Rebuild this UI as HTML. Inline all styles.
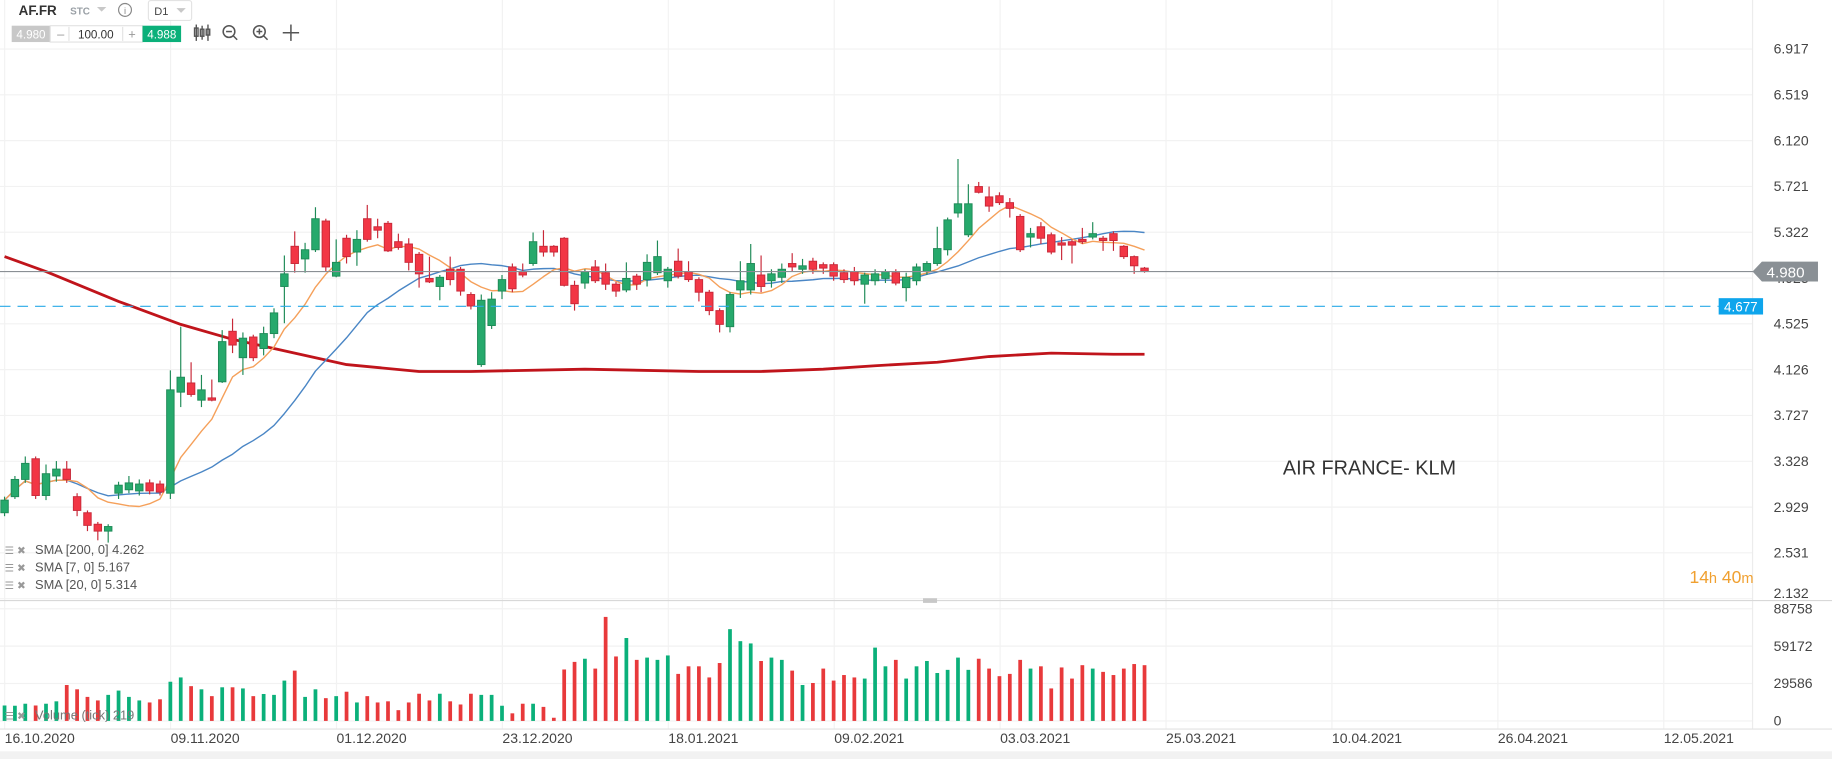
<!DOCTYPE html>
<html><head><meta charset="utf-8">
<style>
html,body{margin:0;padding:0;background:#fff;overflow:hidden}
svg{display:block;font-family:"Liberation Sans",Arial,sans-serif}
</style></head>
<body>
<svg id="chart" width="1832" height="759" viewBox="0 0 1568 649.6" preserveAspectRatio="none" xmlns="http://www.w3.org/2000/svg">
<rect x="0" y="0" width="1568" height="650" fill="#ffffff"/>
<g id="grid"></g>
<g id="vol"></g>
<g id="lines"></g>
<g id="candles"></g>
<g id="axes"></g>
<!-- pane divider -->
<line x1="0" y1="514" x2="1568" y2="514" stroke="#d8d8d8" stroke-width="1"/>
<rect x="790" y="512" width="12" height="4" fill="#c8c8c8"/>
<line x1="0" y1="624" x2="1568" y2="624" stroke="#e2e2e2"/>
<rect x="0" y="643" width="1568" height="7" fill="#f2f2f2"/>
<!-- toolbar -->
<g>
<text x="16" y="13" font-size="11.5" font-weight="bold" fill="#333">AF.FR</text>
<text x="60" y="12.5" font-size="8.5" font-weight="bold" fill="#9aa0a6">STC</text>
<path d="M83 6 L91 6 L87 10 Z" fill="#c8c8c8"/>
<circle cx="107" cy="8.5" r="5.5" fill="none" stroke="#888" stroke-width="1"/>
<text x="107" y="12" font-size="8" fill="#888" text-anchor="middle">i</text>
<rect x="127" y="0.5" width="37" height="17" rx="2" fill="#fff" stroke="#e3e3e3"/>
<text x="132" y="13" font-size="9.5" fill="#444">D1</text>
<path d="M151 7 L159 7 L155 11 Z" fill="#c8c8c8"/>
<rect x="10" y="22" width="33" height="14" fill="#c8c8c8"/>
<text x="26.5" y="33" font-size="10" fill="#fff" text-anchor="middle">4.980</text>
<rect x="43" y="22" width="79" height="14" fill="#fff" stroke="#e3e3e3"/>
<text x="52" y="33" font-size="11" fill="#999" text-anchor="middle">–</text>
<line x1="59" y1="23" x2="59" y2="35" stroke="#e3e3e3"/>
<text x="82" y="33" font-size="10" fill="#333" text-anchor="middle">100.00</text>
<line x1="105" y1="23" x2="105" y2="35" stroke="#e3e3e3"/>
<text x="113" y="33" font-size="11" fill="#999" text-anchor="middle">+</text>
<rect x="122" y="22" width="33" height="14" fill="#0bb07a"/>
<text x="138.5" y="33" font-size="10" fill="#fff" text-anchor="middle">4.988</text>
<g stroke="#555" stroke-width="1.2" fill="none">
<line x1="168" y1="21" x2="168" y2="35"/><rect x="166.5" y="24" width="3" height="7"/>
<line x1="173" y1="22" x2="173" y2="34"/><rect x="171.5" y="25" width="3" height="6"/>
<line x1="178" y1="21" x2="178" y2="35"/><rect x="176.5" y="25" width="3" height="5"/>
</g>
<g stroke="#555" stroke-width="1.3" fill="none"><circle cx="196" cy="27" r="5"/><line x1="199.5" y1="30.5" x2="203" y2="34"/><line x1="193.5" y1="27" x2="198.5" y2="27"/></g>
<g stroke="#555" stroke-width="1.3" fill="none"><circle cx="222" cy="27" r="5"/><line x1="225.5" y1="30.5" x2="229" y2="34"/><line x1="219.5" y1="27" x2="224.5" y2="27"/><line x1="222" y1="24.5" x2="222" y2="29.5"/></g>
<g stroke="#555" stroke-width="1.3" fill="none"><line x1="242" y1="28" x2="256" y2="28"/><line x1="249" y1="21" x2="249" y2="35"/></g>
</g>
<text x="1098" y="406" font-size="17" fill="#333">AIR FRANCE- KLM</text>
<text x="1446" y="499" font-size="15" fill="#f0a030">14<tspan font-size="12.5">h</tspan> 40<tspan font-size="12.5">m</tspan></text>
<g font-size="11" fill="#555">
<g><text x="4" y="474" font-size="9" fill="#999">☰ ✖</text><text x="30" y="474">SMA [200, 0] 4.262</text></g>
<g><text x="4" y="489" font-size="9" fill="#999">☰ ✖</text><text x="30" y="489">SMA [7, 0] 5.167</text></g>
<g><text x="4" y="504" font-size="9" fill="#999">☰ ✖</text><text x="30" y="504">SMA [20, 0] 5.314</text></g>
<g><text x="4" y="616" font-size="9" fill="#999">☰ ✖</text><text x="30" y="616" fill="#777">Volume (tick) 219</text></g>
</g>
</svg>
<script>
const opens=[2.88,3.02,3.17,3.35,3.03,3.20,3.26,3.02,2.88,2.78,2.72,3.05,3.08,3.07,3.14,3.13,3.05,3.93,4.01,3.86,3.88,4.02,4.46,4.23,4.41,4.31,4.44,4.85,5.20,5.09,5.17,5.42,4.94,5.27,5.15,5.44,5.37,5.40,5.24,5.22,5.13,4.92,4.85,5.00,5.00,4.78,4.17,4.51,4.81,5.02,4.98,5.05,5.20,5.20,5.27,4.86,4.88,5.02,4.97,4.87,4.82,4.94,4.91,4.97,4.90,5.07,4.98,4.91,4.80,4.64,4.50,4.82,4.82,4.95,4.90,4.93,5.05,5.00,5.07,5.04,5.04,4.97,4.98,4.87,4.90,4.92,4.97,4.84,4.90,4.98,5.05,5.17,5.49,5.30,5.72,5.63,5.64,5.58,5.46,5.28,5.37,5.30,5.23,5.24,5.26,5.28,5.27,5.31,5.20,5.11,5.01];
const highs=[3.02,3.20,3.37,3.37,3.30,3.33,3.33,3.05,2.90,2.80,2.78,3.15,3.20,3.17,3.17,3.16,4.12,4.50,4.19,4.08,4.04,4.47,4.57,4.45,4.43,4.50,4.66,5.12,5.33,5.23,5.54,5.44,5.26,5.30,5.34,5.56,5.44,5.42,5.31,5.27,5.15,5.11,4.95,5.11,5.02,4.80,4.78,4.80,4.95,5.05,5.05,5.32,5.34,5.21,5.28,4.90,5.00,5.08,5.05,4.89,5.06,4.96,5.13,5.25,5.02,5.18,5.07,4.93,4.82,4.66,4.80,5.07,5.22,5.12,5.00,5.05,5.14,5.09,5.10,5.06,5.06,5.00,5.02,4.97,5.00,5.00,5.00,4.97,5.05,5.07,5.37,5.45,5.96,5.74,5.76,5.72,5.67,5.62,5.48,5.36,5.41,5.32,5.28,5.26,5.36,5.41,5.29,5.33,5.21,5.12,5.02];
const lows=[2.85,3.00,3.14,3.00,2.99,3.15,3.14,2.85,2.72,2.64,2.62,3.00,3.05,3.03,3.04,3.03,3.00,3.80,3.89,3.80,3.85,4.01,4.27,4.08,4.20,4.25,4.40,4.53,4.97,4.97,5.15,4.98,4.93,5.05,5.03,5.24,5.27,5.15,5.17,4.99,4.84,4.88,4.73,4.86,4.77,4.65,4.15,4.48,4.74,4.80,4.93,5.03,5.11,5.11,4.85,4.64,4.83,4.88,4.82,4.76,4.80,4.82,4.85,4.95,4.84,4.92,4.89,4.72,4.60,4.45,4.45,4.75,4.78,4.80,4.84,4.88,4.98,4.96,4.96,4.96,4.90,4.88,4.86,4.70,4.86,4.88,4.86,4.72,4.86,4.95,5.03,5.12,5.45,5.28,5.66,5.50,5.56,5.45,5.15,5.19,5.22,5.13,5.08,5.05,5.22,5.26,5.16,5.16,5.09,4.96,4.97];
const closes=[2.99,3.17,3.31,3.03,3.22,3.26,3.17,2.90,2.77,2.72,2.76,3.12,3.14,3.13,3.07,3.06,3.95,4.06,3.91,3.95,3.86,4.37,4.34,4.40,4.23,4.44,4.62,4.96,5.05,5.17,5.44,5.02,5.06,5.11,5.26,5.26,5.34,5.16,5.19,5.06,4.96,4.89,4.93,4.91,4.81,4.68,4.73,4.74,4.91,4.83,4.95,5.24,5.15,5.15,4.86,4.70,4.98,4.90,4.87,4.81,4.92,4.87,5.06,5.11,5.00,4.94,4.91,4.80,4.64,4.52,4.78,4.90,5.05,4.85,4.96,5.00,5.02,5.03,5.00,5.01,4.94,4.91,4.90,4.95,4.96,4.98,4.88,4.93,5.02,5.05,5.18,5.43,5.57,5.57,5.67,5.55,5.58,5.53,5.17,5.31,5.27,5.15,5.21,5.21,5.24,5.31,5.25,5.25,5.11,5.03,4.98];
const volumes=[12200,12000,13600,12200,13600,15500,28400,25000,19000,16200,20600,24000,19000,16200,14600,17100,31000,34400,27500,25000,19600,26600,26600,25700,19600,21300,20600,31900,39800,19000,25000,18000,19600,23100,14600,19600,14600,15500,8500,14600,21500,16200,21500,15500,13000,21500,20600,20600,12000,6000,13600,13600,11100,2500,40700,46700,49200,41400,82300,51000,65600,48300,50100,48300,51800,37200,43200,43200,34400,45800,72600,63100,61300,47400,50100,48300,39800,28400,30000,41400,31900,36300,34400,33500,58000,43200,48300,33500,43200,47400,37900,40400,50100,40400,49200,41400,35400,37200,48300,41400,43200,25700,42300,33500,44100,41400,38800,36300,41400,45000,44100];
const sma200Idx=[0,4,11,17,22,28,33,40,45,56,67,73,79,84,90,95,101,107,110];
const sma200Val=[5.11,4.98,4.72,4.52,4.39,4.27,4.17,4.11,4.11,4.13,4.11,4.11,4.13,4.16,4.19,4.24,4.27,4.26,4.26];
const priceTicks=["6.917","6.519","6.120","5.721","5.322","4.923","4.525","4.126","3.727","3.328","2.929","2.531","2.132"];
const volTicks=["88758","59172","29586","0"];
const dateLabels=["16.10.2020","09.11.2020","01.12.2020","23.12.2020","18.01.2021","09.02.2021","03.03.2021","25.03.2021","10.04.2021","26.04.2021","12.05.2021"];
const currentPrice=4.980, alertPrice=4.677;

const NS="http://www.w3.org/2000/svg";
const X0=3.9, DX=8.87, PLOT_R=1500;
function xAt(i){return X0+i*DX;}
function yP(p){return 42+(6.917-p)*98.3;}
function yV(v){return 617-v/29586*32;}
function mk(tag,attrs,parent){const e=document.createElementNS(NS,tag);for(const k in attrs)e.setAttribute(k,attrs[k]);parent.appendChild(e);return e;}
const G=document.getElementById('grid'),V=document.getElementById('vol'),L=document.getElementById('lines'),C=document.getElementById('candles'),A=document.getElementById('axes');

// grid + price axis
priceTicks.forEach(t=>{const y=yP(parseFloat(t));
 const gl=mk('line',{x1:0,x2:PLOT_R,y1:y,y2:y,stroke:'#f2f2f2','stroke-width':1},G);
 
 
 const tx=mk('text',{x:1518,y:Math.min(y+4,512),'font-size':12,fill:'#444'},A);tx.textContent=t;
 
 
});
volTicks.forEach(t=>{const y=yV(parseFloat(t));
 const gl=mk('line',{x1:0,x2:PLOT_R,y1:y,y2:y,stroke:'#f2f2f2'},G);
 
 
 const tx=mk('text',{x:1518,y:y+4,'font-size':12,fill:'#444'},A);tx.textContent=t;
 
 
});
dateLabels.forEach((d,k)=>{const x=4+k*142;
 const gl=mk('line',{x1:x,x2:x,y1:0,y2:624,stroke:'#f2f2f2'},G);
 
 
 const tx=mk('text',{x:x,y:636,'font-size':12,fill:'#444'},A);tx.textContent=d;
 
 
});
const sep=mk('line',{x1:PLOT_R,x2:PLOT_R,y1:0,y2:624,stroke:'#ececec'},G);



// volume
volumes.forEach((v,i)=>{const up=closes[i]>=opens[i];
 const r=mk('rect',{x:xAt(i)-1.6,y:yV(v),width:3.2,height:617-yV(v),fill:up?'#0bb07a':'#e8393b'},V);
 
 
});

// SMA computed from closes
function sma(n){return closes.map((c,i)=>{const s=closes.slice(Math.max(0,i-n+1),i+1);return s.reduce((a,b)=>a+b,0)/s.length;});}
function poly(pts,color,w,name){const p=mk('polyline',{points:pts.join(' '),fill:'none',stroke:color,'stroke-width':w,'stroke-linejoin':'round'},L);
 
 }
poly(sma200Idx.map((i,k)=>xAt(i)+','+yP(sma200Val[k])),'#c0141b',2.4,'sma200-line');
poly(sma(20).map((v,i)=>xAt(i)+','+yP(v)),'#4a86c5',1.2,'sma20-line');
poly(sma(7).map((v,i)=>xAt(i)+','+yP(v)),'#f5a05a',1.2,'sma7-line');

// candles
opens.forEach((o,i)=>{const c=closes[i],up=c>=o,x=xAt(i);
 const fill=up?'#26a96c':'#f23645',st=up?'#1e8a57':'#c82838';
 const w=mk('line',{x1:x,x2:x,y1:yP(highs[i]),y2:yP(lows[i]),stroke:st,'stroke-width':1},C);
 
 
 const top=yP(Math.max(o,c)),h=Math.max(1.2,Math.abs(yP(o)-yP(c)));
 const b=mk('rect',{x:x-3.2,y:top,width:6.4,height:h,fill:fill,stroke:st,'stroke-width':0.8},C);
 
 
});

// price lines
const cy=yP(currentPrice), ay=yP(alertPrice);
const cl=mk('line',{x1:0,x2:1507,y1:cy,y2:cy,stroke:'#8a8f94','stroke-width':1},A);


const cb=mk('path',{d:`M1500 ${cy} L1508 ${cy-8.5} L1556 ${cy-8.5} L1556 ${cy+8.5} L1508 ${cy+8.5} Z`,fill:'#8a9095'},A);


const ct=mk('text',{x:1512,y:cy+5,'font-size':13,fill:'#fff'},A);ct.textContent=currentPrice.toFixed(3);


const al=mk('line',{x1:0,x2:1471,y1:ay,y2:ay,stroke:'#29a9e8','stroke-width':1,'stroke-dasharray':'9 6'},A);


const ab=mk('rect',{x:1471,y:ay-7,width:38,height:14,fill:'#0ea5ec'},A);


const at=mk('text',{x:1490,y:ay+4.5,'font-size':11.5,fill:'#fff','text-anchor':'middle'},A);at.textContent=alertPrice.toFixed(3);


</script>
</body></html>
